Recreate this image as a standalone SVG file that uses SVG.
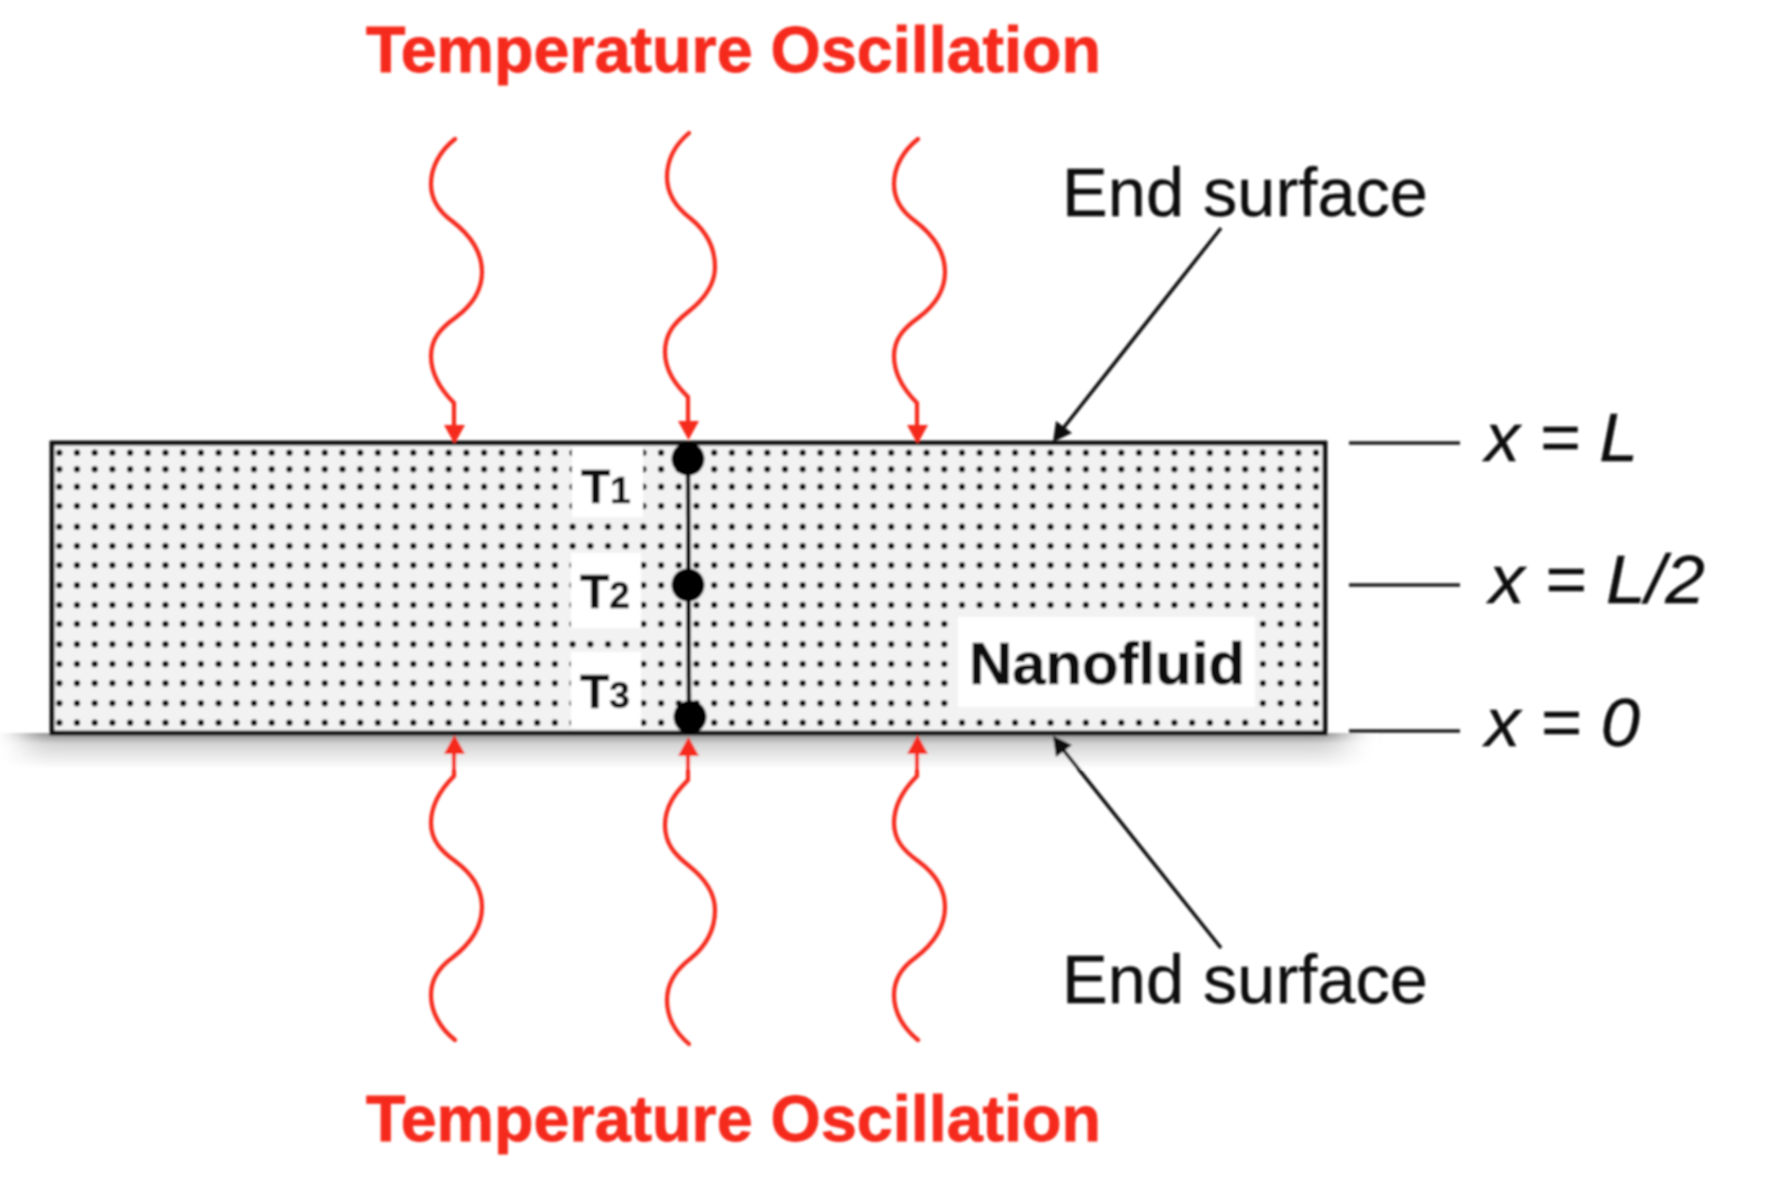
<svg xmlns="http://www.w3.org/2000/svg" width="1792" height="1178" viewBox="0 0 1792 1178">
<style>
.title{font:bold 64px "Liberation Sans",Arial,sans-serif;fill:#f5291c;stroke:#f5291c;stroke-width:.8}
.lab{font:68px "Liberation Sans",Arial,sans-serif;fill:#111;stroke:#111;stroke-width:.4}
.it{font:italic 68px "Liberation Sans",Arial,sans-serif;fill:#111;stroke:#111;stroke-width:.4}
.t{font:bold 48px "Liberation Sans",Arial,sans-serif;fill:#111;stroke:#111;stroke-width:.5}
.nf{font:bold 60px "Liberation Sans",Arial,sans-serif;fill:#111;stroke:#111;stroke-width:.6}
.sub{font:bold 37px "Liberation Sans",Arial,sans-serif}
.wave{fill:none;stroke:#f5291c;stroke-width:4.2;stroke-linecap:round}
.ptr{fill:none;stroke:#111;stroke-width:3.6}
.tick{stroke:#222;stroke-width:3.6}
.row{stroke:#111;stroke-width:6.4;stroke-linecap:round;stroke-dasharray:0 17.7}
</style>
<defs>
<linearGradient id="sh" x1="0" y1="0" x2="0" y2="1"><stop offset="0" stop-color="#8a8a8a"/><stop offset="0.3" stop-color="#d4d4d4"/><stop offset="1" stop-color="#fff"/></linearGradient>
<filter id="soft" x="-2%" y="-2%" width="104%" height="104%"><feGaussianBlur stdDeviation="0.8"/></filter>
<filter id="hblur" x="-5%" y="-20%" width="110%" height="140%"><feGaussianBlur stdDeviation="16 0"/></filter>
<path id="w1" d="M455 139C441 150 431 166 431 184C431 202 441 213 452 221C469 234 482 251 482 272C482 292 470 307 455 318C441 328 431 339 431 356C431 375 442 391 454 403V428" class="wave"/>
<path id="w2" d="M689 133C676 144 667 159 667 177C667 195 677 208 690 218C705 230 715 246 715 267C715 287 702 301 688 312C674 323 665 334 665 352C665 371 676 385 688 397V424" class="wave"/>
<path id="h1" d="M444 425H465L454.500 444Z" fill="#f5291c"/>
<path id="h2" d="M678 421H699L688.500 440Z" fill="#f5291c"/>
</defs>
<rect width="1792" height="1178" fill="#fff"/>
<g filter="url(#soft)">
<g id="shadow"><rect x="25" y="733" width="1320" height="36" fill="url(#sh)" filter="url(#hblur)"/></g>
<g id="nanofluid-block">
<rect x="52" y="443" width="1273" height="290" fill="#f1f2f1"/>
<g id="dots">
<path class="row" d="M59.300 452.700H1320"/><path class="row" d="M59.300 469.300H1320"/><path class="row" d="M59.300 486.700H1320"/><path class="row" d="M59.300 506H1320"/><path class="row" d="M59.300 526.700H1320"/><path class="row" d="M59.300 546H1320"/><path class="row" d="M59.300 565.300H1320"/><path class="row" d="M59.300 585.300H1320"/><path class="row" d="M59.300 605H1320"/><path class="row" d="M59.300 624H1320"/><path class="row" d="M59.300 644.300H1320"/><path class="row" d="M59.300 664H1320"/><path class="row" d="M59.300 683.300H1320"/><path class="row" d="M59.300 703.300H1320"/><path class="row" d="M59.300 722.700H1320"/>
</g>
<rect x="572" y="447" width="71" height="70" fill="#fff"/>
<rect x="571" y="553" width="70" height="75" fill="#fff"/>
<rect x="571" y="652" width="70" height="76" fill="#fff"/>
<rect x="958" y="617" width="297" height="90" fill="#fff"/>
<rect x="52" y="443" width="1273" height="290" fill="none" stroke="#111" stroke-width="4.800"/>
<text class="nf" x="969" y="684" textLength="276" lengthAdjust="spacingAndGlyphs">Nanofluid</text>
</g>
<g id="probe">
<line x1="688" y1="459" x2="689" y2="717" stroke="#000" stroke-width="4.500"/>
<circle cx="688" cy="459" r="16.500" fill="#000"/>
<circle cx="688" cy="585" r="16.500" fill="#000"/>
<circle cx="690" cy="717" r="16.500" fill="#000"/>
</g>
<g id="sensor-labels">
<text class="t" x="581" y="503">T<tspan class="sub">1</tspan></text>
<text class="t" x="580" y="608">T<tspan class="sub">2</tspan></text>
<text class="t" x="580" y="708">T<tspan class="sub">3</tspan></text>
</g>
<g id="connectors">
<use href="#w1"/><use href="#h1"/>
<use href="#w2"/><use href="#h2"/>
<use href="#w1" x="463"/><use href="#h1" x="463"/>
<g transform="matrix(1 0 0 -1 0 1179)"><use href="#w1"/><use href="#h1"/><use href="#w2" y="2"/><use href="#h2" y="2"/><use href="#w1" x="463"/><use href="#h1" x="463"/></g>
<line class="ptr" x1="1221" y1="228" x2="1061" y2="431"/>
<path d="M1053 442L1056 421L1072 433Z" fill="#111"/>
<line class="ptr" x1="1221" y1="948" x2="1061" y2="747"/>
<path d="M1053 736L1072 745L1056 757Z" fill="#111"/>
<line class="tick" x1="1349" y1="443" x2="1460" y2="443"/>
<line class="tick" x1="1349" y1="585" x2="1460" y2="585"/>
<line class="tick" x1="1349" y1="731" x2="1460" y2="731"/>
</g>
<g id="labels">
<text class="title" x="366" y="72" textLength="735" lengthAdjust="spacingAndGlyphs">Temperature Oscillation</text>
<text class="title" x="366" y="1141" textLength="735" lengthAdjust="spacingAndGlyphs">Temperature Oscillation</text>
<text class="lab" x="1062" y="216" textLength="366" lengthAdjust="spacingAndGlyphs">End surface</text>
<text class="lab" x="1062" y="1003" textLength="366" lengthAdjust="spacingAndGlyphs">End surface</text>
<text class="it" x="1485" y="461" textLength="153" lengthAdjust="spacingAndGlyphs">x = L</text>
<text class="it" x="1489" y="603" textLength="216" lengthAdjust="spacingAndGlyphs">x = L/2</text>
<text class="it" x="1485" y="746" textLength="155" lengthAdjust="spacingAndGlyphs">x = 0</text>
</g>
</g>
</svg>
